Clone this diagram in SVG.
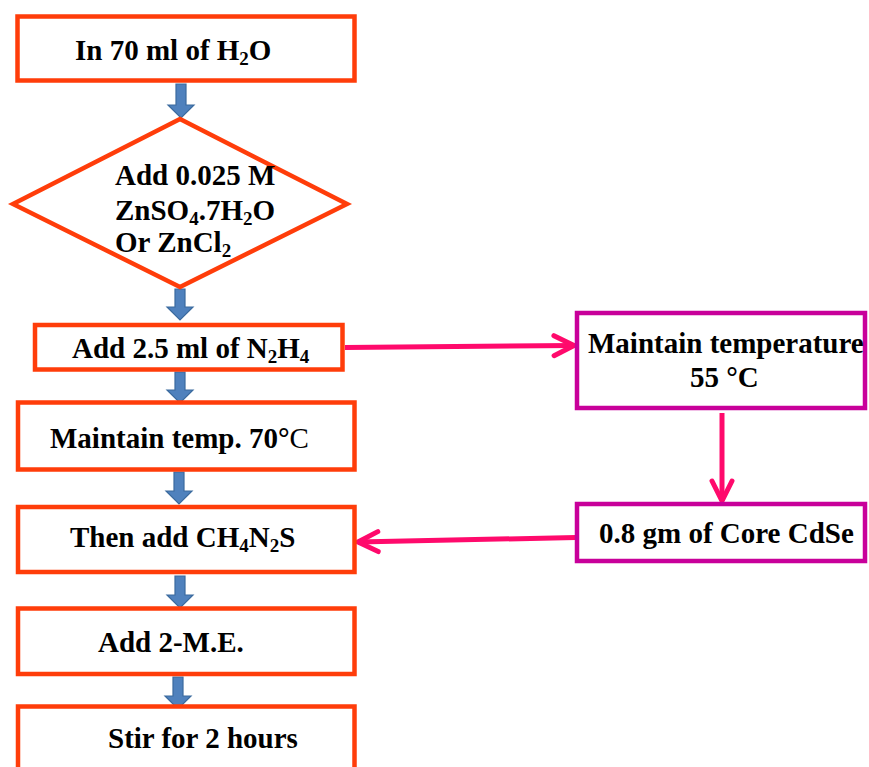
<svg xmlns="http://www.w3.org/2000/svg" width="869" height="767" viewBox="0 0 869 767">
<style>
.box{fill:#fff;stroke:#FF3D0A;stroke-width:4.5}
.mbox{fill:#fff;stroke:#C8009A;stroke-width:4.5}
.t{font-family:"Liberation Serif","Times New Roman",serif;font-weight:bold;font-size:29px;fill:#000}
.s{font-size:19px}
.blue{fill:#4F81BD;stroke:#3B6A9E;stroke-width:1.2}
.con{fill:none;stroke:#FF0A6C;stroke-width:5}
</style>
<defs>
<marker id="chev" markerUnits="userSpaceOnUse" markerWidth="40" markerHeight="40" viewBox="-30 -20 40 40" refX="0" refY="0" orient="auto">
<path d="M-20,-10 L0,0 L-20,10" fill="none" stroke="#FF0A6C" stroke-width="5" stroke-linecap="round" stroke-linejoin="round"/>
</marker>
</defs>
<g id="connectors">
<path class="blue" d="M176,84 H186 V105 H194 L181,118 L168,105 H176 Z"/>
<path class="blue" d="M175,289 H185 V307 H193 L180,320 L167,307 H175 Z"/>
<path class="blue" d="M175,372 H185 V390 H193 L180,403 L167,390 H175 Z"/>
<path class="blue" d="M174,472 H184 V491 H192 L179,504 L166,491 H174 Z"/>
<path class="blue" d="M175,576 H185 V595 H193 L180,608 L167,595 H175 Z"/>
<path class="blue" d="M173,677 H183 V696 H191 L178,709 L165,696 H173 Z"/>
<line class="con" x1="345" y1="347.5" x2="574" y2="345.5" marker-end="url(#chev)"/>
<line class="con" x1="722" y1="413" x2="722" y2="501" marker-end="url(#chev)"/>
<line class="con" x1="576" y1="537.5" x2="358" y2="542" marker-end="url(#chev)"/>
</g>
<g id="n1">
<rect class="box" x="17.5" y="16.5" width="337" height="64"/>
<text class="t" x="75" y="60">In 70 ml of H<tspan class="s" dy="5">2</tspan><tspan dy="-5">O</tspan></text>
</g>
<g id="n2">
<polygon class="box" points="13,204 180,119 347,204 180,287"/>
<text class="t" x="115" y="185">Add 0.025 M</text>
<text class="t" x="115" y="220">ZnSO<tspan class="s" dy="5">4</tspan><tspan dy="-5">.7H</tspan><tspan class="s" dy="5">2</tspan><tspan dy="-5">O</tspan></text>
<text class="t" x="115" y="252">Or ZnCl<tspan class="s" dy="5">2</tspan></text>
</g>
<g id="n3">
<rect class="box" x="35" y="325" width="307.5" height="44.5"/>
<text class="t" x="72" y="358">Add 2.5 ml of N<tspan class="s" dy="5">2</tspan><tspan dy="-5">H</tspan><tspan class="s" dy="5">4</tspan></text>
</g>
<g id="n4">
<rect class="box" x="18" y="402.5" width="336.5" height="67"/>
<text class="t" x="50" y="448">Maintain temp. 70°<tspan font-weight="normal">C</tspan></text>
</g>
<g id="n5">
<rect class="box" x="18" y="507" width="336.5" height="65"/>
<text class="t" x="70" y="547">Then add CH<tspan class="s" dy="5">4</tspan><tspan dy="-5">N</tspan><tspan class="s" dy="5">2</tspan><tspan dy="-5">S</tspan></text>
</g>
<g id="n6">
<rect class="box" x="18" y="608.5" width="336.5" height="65.5"/>
<text class="t" x="98" y="652">Add 2-M.E.</text>
</g>
<g id="n7">
<rect class="box" x="18" y="706.5" width="336.5" height="80"/>
<text class="t" x="108" y="748">Stir for 2 hours</text>
</g>
<g id="n8">
<rect class="mbox" x="577" y="313" width="288" height="95"/>
<text class="t" x="588" y="353">Maintain temperature</text>
<text class="t" x="690" y="387">55 °C</text>
</g>
<g id="n9">
<rect class="mbox" x="577" y="504" width="288" height="57"/>
<text class="t" x="599" y="543">0.8 gm of Core CdSe</text>
</g>
</svg>
